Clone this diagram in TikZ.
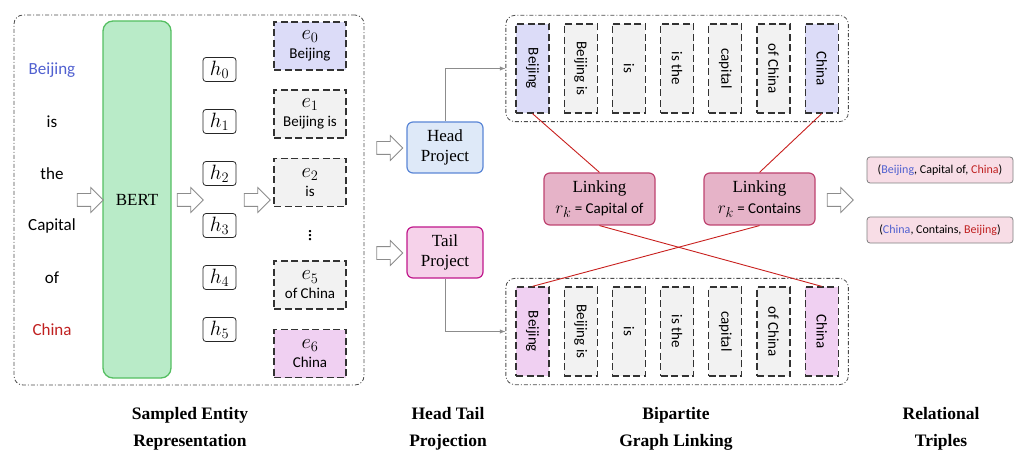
\documentclass[tikz,border=0pt]{standalone}
\usepackage{fontspec}
\setmainfont{Liberation Serif}
\newfontfamily\calib{Carlito}
\usepackage{graphicx}
\usepackage{xcolor}
\usepackage{tikz}
\usetikzlibrary{shapes,arrows,positioning,fit,backgrounds}

\definecolor{wordblue}{HTML}{5060D0}
\definecolor{wordred}{HTML}{C02020}
\definecolor{bertfill}{HTML}{B9EBC8}
\definecolor{bertdraw}{HTML}{55BF62}
\definecolor{entblue}{HTML}{DCDCF8}
\definecolor{entgray}{HTML}{F2F2F2}
\definecolor{entpink}{HTML}{F0D0F2}
\definecolor{headfill}{HTML}{DEE9F8}
\definecolor{headdraw}{HTML}{5A86D6}
\definecolor{tailfill}{HTML}{F6D2EA}
\definecolor{taildraw}{HTML}{C0188C}
\definecolor{linkfill}{HTML}{E6B3C8}
\definecolor{linkdraw}{HTML}{BE4470}
\definecolor{linkred}{HTML}{C8201E}
\definecolor{triplefill}{HTML}{F8DDE6}

\newcommand{\mathbig}[1]{{\fontsize{20}{20}\selectfont$#1$}}

\tikzset{
  group/.style={draw=black!70, dash pattern=on 4pt off 2pt on 1pt off 2pt, rounded corners=9pt, line width=0.8pt},
  word/.style={font=\calib\fontsize{17}{19}\selectfont},
  ent/.style={draw=black!80, dash pattern=on 7pt off 3.5pt, line width=1.3pt, minimum width=72, minimum height=48, inner sep=0, align=center, font=\calib\fontsize{15}{19}\selectfont},
  hid/.style={draw=black!85, rounded corners=3pt, minimum width=33, minimum height=24, inner sep=0, line width=0.8pt},
  tok/.style={draw=black!80, dash pattern=on 7pt off 3.5pt, line width=1.3pt, minimum width=33, minimum height=89, inner sep=0, font=\calib\fontsize{15}{17}\selectfont},
  proj/.style={rounded corners=6pt, line width=1.2pt, minimum width=76, minimum height=51, inner sep=0, align=center, font=\fontsize{17}{20}\selectfont},
  linkbox/.style={fill=linkfill, draw=linkdraw, rounded corners=6pt, line width=1.2pt, minimum width=111, minimum height=52, inner sep=0, align=center, font=\fontsize{17}{21}\selectfont},
  triple/.style={fill=triplefill, draw=black!50, rounded corners=3pt, line width=0.8pt, minimum width=146, minimum height=26, inner sep=0, font=\calib\fontsize{12}{14}\selectfont},
  hollow/.style={single arrow, draw=black!45, fill=white, line width=0.8pt, minimum height=26, single arrow head extend=6, single arrow head indent=0, inner sep=0},
  caption/.style={font=\bfseries\fontsize{17.5}{27}\selectfont, align=center}
}

\begin{document}
\begin{tikzpicture}[x=1pt,y=-1pt]
    \useasboundingbox (0,0) rectangle (1024,454);

    % Sampled entity representation
    \node[group, minimum width=350, minimum height=370] (enc) at (189,200) {};
    \node[fill=bertfill, draw=bertdraw, line width=1.3pt, rounded corners=10pt, minimum width=68, minimum height=357, font=\fontsize{17}{19}\selectfont] (bert) at (137,199.5) {BERT};

    \foreach \w/\c [count=\i from 0] in {Beijing/wordblue, is/black, the/black, Capital/black, of/black, China/wordred} {
        \node[word, text=\c] (w\i) at (52,70+52*\i) {\w};
    }

    \foreach \i in {0,...,5} {
        \node[hid] (h\i) at (219.5,69.5+52*\i) {\mathbig{h_{\i}}};
    }

    \node[ent, fill=entblue] (e0) at (310,46) {\mathbig{e_0}\\Beijing};
    \node[ent, fill=entgray] (e1) at (310,114) {\mathbig{e_1}\\Beijing is};
    \node[ent, fill=entgray] (e2) at (310,182.5) {\mathbig{e_2}\\is};
    \node (dots) at (310,233) {\mathbig{\vdots}};
    \node[ent, fill=entgray] (e5) at (310,285) {\mathbig{e_5}\\of China};
    \node[ent, fill=entpink] (e6) at (310,353.5) {\mathbig{e_6}\\China};

    % Hollow arrows
    \node[hollow] (a1) at (87,200) {\rule{0pt}{12pt}};
    \node[hollow] (a2) at (187,200) {\rule{0pt}{12pt}};
    \node[hollow] (a3) at (254,200) {\rule{0pt}{12pt}};
    \node[hollow] (a4) at (386.5,148) {\rule{0pt}{12pt}};
    \node[hollow] (a5) at (386.5,253) {\rule{0pt}{12pt}};
    \node[hollow] (a6) at (837,200) {\rule{0pt}{12pt}};

    % Head tail projection
    \node[proj, fill=headfill, draw=headdraw] (head) at (445,147.5) {Head\\Project};
    \node[proj, fill=tailfill, draw=taildraw] (tail) at (445,252.5) {Tail\\Project};

    % Bipartite graph
    \foreach \t/\ft/\fb [count=\i from 0] in {Beijing/entblue/entpink, Beijing is/entgray/entgray, is/entgray/entgray, is the/entgray/entgray, capital/entgray/entgray, of China/entgray/entgray, China/entblue/entpink} {
        \node[tok, fill=\ft] (top\i) at (532.5+48.2*\i,68.5) {\rotatebox{-90}{\t}};
        \node[tok, fill=\fb] (bot\i) at (532.5+48.2*\i,331.5) {\rotatebox{-90}{\t}};
    }
    \node[group, fit=(top0)(top6), inner xsep=9.5pt, inner ysep=8pt] (topgrp) {};
    \node[group, fit=(bot0)(bot6), inner xsep=9.5pt, inner ysep=8pt] (botgrp) {};

    \draw[black!45, line width=0.9pt, -latex] (head.north) |- (topgrp.west);
    \draw[black!45, line width=0.9pt, -latex] (tail.south) |- (botgrp.west);

    \node[linkbox] (link1) at (599.5,199) {Linking\\{\calib\fontsize{15}{17}\selectfont {\fontsize{19}{19}\selectfont$r_k$} = Capital of}};
    \node[linkbox] (link2) at (759.5,199) {Linking\\{\calib\fontsize{15}{17}\selectfont {\fontsize{19}{19}\selectfont$r_k$} = Contains}};

    \draw[linkred, line width=0.9pt] (top0.south) -- (link1.north);
    \draw[linkred, line width=0.9pt] (top6.south) -- (link2.north);
    \draw[linkred, line width=0.9pt] (link1.south) -- (bot6.north);
    \draw[linkred, line width=0.9pt] (link2.south) -- (bot0.north);

    % Relational triples
    \node[triple] (t1) at (940,170) {(\textcolor{wordblue}{Beijing}, Capital of, \textcolor{wordred}{China})};
    \node[triple] (t2) at (940,230) {(\textcolor{wordblue}{China}, Contains, \textcolor{wordred}{Beijing})};

    % Labels
    \node[caption] (c1) at (190,429) {Sampled Entity\\Representation};
    \node[caption] (c2) at (448,429) {Head Tail\\Projection};
    \node[caption] (c3) at (676,429) {Bipartite\\Graph Linking};
    \node[caption] (c4) at (941,429) {Relational\\Triples};
\end{tikzpicture}
\end{document}
